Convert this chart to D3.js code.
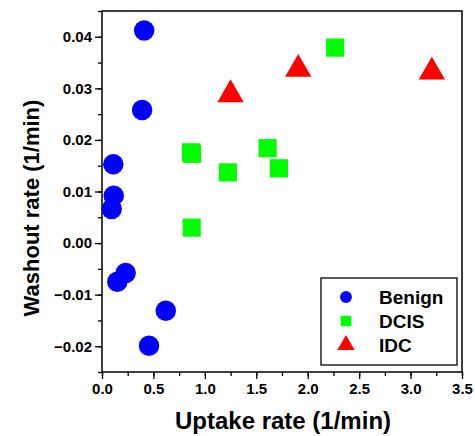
<!DOCTYPE html>
<html>
<head>
<meta charset="utf-8">
<script src="https://cdn.jsdelivr.net/npm/d3@7"></script>
<style>
  body { margin: 0; background: #fff; }
  svg text { font-family: Arial, "Liberation Sans", sans-serif; font-weight: bold; }
</style>
</head>
<body>
<div id="chart"></div>
<script>
// values: [uptake, washout]
const benign = [
    [0.41, 0.0412], [0.39, 0.0258], [0.11, 0.0153], [0.114, 0.0092],
    [0.094, 0.0066], [0.23, -0.0058], [0.149, -0.0075], [0.457, -0.0199],
    [0.62, -0.0131]
];
const dcis = [
    [0.865, 0.0176], [0.875, 0.0173], [1.224, 0.0137], [1.61, 0.0184],
    [1.72, 0.0145], [0.872, 0.0030], [2.267, 0.0379]
];
const idc = [
    [1.25, 0.0288], [1.908, 0.0337], [3.207, 0.0332]
];

const groups = [
    { name: "Benign", data: benign, color: "#0000ff", shape: d3.symbolCircle },
    { name: "DCIS", data: dcis, color: "#00ff00", shape: d3.symbolSquare },
    { name: "IDC", data: idc, color: "#ff0000", shape: d3.symbolTriangle }
];

const xTicks = [0, 0.5, 1, 1.5, 2, 2.5, 3, 3.5];
const yTicks = [-0.02, -0.01, 0, 0.01, 0.02, 0.03, 0.04];

const W = 475, H = 436;
const margin = { top: 11, right: 13, bottom: 64, left: 102 };
const width = W - margin.left - margin.right;
const height = H - margin.top - margin.bottom;

const svg = d3.select("#chart").append("svg")
    .attr("width", W)
    .attr("height", H);

const g = svg.append("g")
    .attr("transform", `translate(${margin.left}, ${margin.top})`);

const x = d3.scaleLinear().domain([0, 3.5]).range([0, width]);
const y = d3.scaleLinear().domain([-0.025, 0.045]).range([height, 0]);

// minor ticks first, majors over them
g.append("g")
    .attr("transform", `translate(0, ${height})`)
    .call(d3.axisBottom(x).tickValues(d3.range(0, 3.51, 0.25)).tickSize(4).tickFormat(""))
    .call(a => a.select(".domain").remove());
g.append("g")
    .call(d3.axisLeft(y).tickValues(d3.range(-0.025, 0.0451, 0.005)).tickSize(4).tickFormat(""))
    .call(a => a.select(".domain").remove());

const xAxis = g.append("g")
    .attr("transform", `translate(0, ${height})`)
    .call(d3.axisBottom(x).tickValues(xTicks).tickSize(7).tickPadding(4).tickFormat(d3.format(".1f")));
const yAxis = g.append("g")
    .call(d3.axisLeft(y).tickValues(yTicks).tickSize(7).tickPadding(3).tickFormat(d3.format(".2f")));

[xAxis, yAxis].forEach(a => {
    a.selectAll("text").style("font-size", "15px").attr("fill", "#000");
    a.select(".domain").remove();
});
g.selectAll(".tick line").attr("stroke", "#000").attr("stroke-width", 1.3);

// frame
g.append("rect")
    .attr("width", width)
    .attr("height", height)
    .attr("fill", "none")
    .attr("stroke", "#000")
    .attr("stroke-width", 1.5);

// points
groups.forEach(grp => {
    const size = grp.shape === d3.symbolTriangle ? 300 : 330;
    g.append("g").selectAll("path")
        .data(grp.data)
        .join("path")
        .attr("transform", d => `translate(${x(d[0])}, ${y(d[1])})`)
        .attr("d", d3.symbol().type(grp.shape).size(size))
        .attr("fill", grp.color);
});

// axis titles
svg.append("text")
    .attr("x", 283)
    .attr("y", 429)
    .attr("text-anchor", "middle")
    .style("font-size", "24px")
    .text("Uptake rate (1/min)");

svg.append("text")
    .attr("transform", "translate(39, 208) rotate(-90)")
    .attr("text-anchor", "middle")
    .style("font-size", "22px")
    .text("Washout rate (1/min)");

// legend
const legend = svg.append("g").attr("transform", "translate(321, 278)");
legend.append("rect")
    .attr("width", 136)
    .attr("height", 87)
    .attr("fill", "#fff")
    .attr("stroke", "#000")
    .attr("stroke-width", 1.3);

groups.forEach((grp, i) => {
    const row = legend.append("g").attr("transform", `translate(25, ${19 + i * 24})`);
    row.append("path")
        .attr("d", d3.symbol().type(grp.shape).size(grp.shape === d3.symbolTriangle ? 130 : 110))
        .attr("fill", grp.color);
    row.append("text")
        .attr("x", 33)
        .attr("y", 7)
        .style("font-size", "19px")
        .text(grp.name);
});
</script>
</body>
</html>
